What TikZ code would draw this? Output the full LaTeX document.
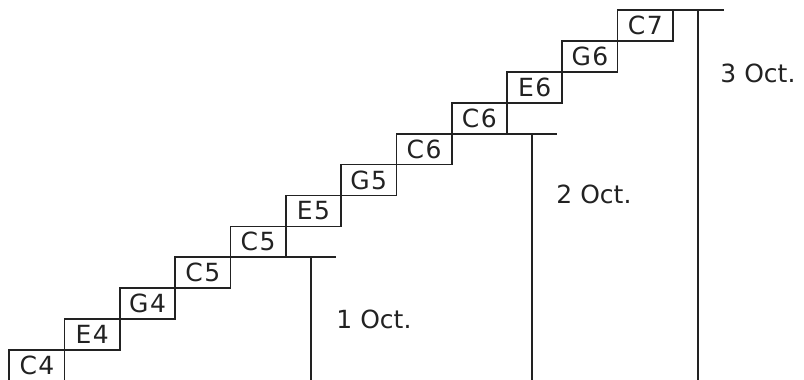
\documentclass[tikz,border=0pt]{standalone}
\usepackage{fontspec}
\setmainfont{DejaVu Sans}
\newfontfamily\notefont[LetterSpace=6]{DejaVu Sans}
\definecolor{inkgray}{RGB}{34,34,34}
\usetikzlibrary{positioning,calc}

\begin{document}
\begin{tikzpicture}[x=1pt,y=1pt,
    every node/.style={font=\fontsize{25}{30}\selectfont,text=inkgray},
    note/.style={draw=inkgray,line width=1.7pt,minimum width=55.3pt,
                 minimum height=30.9pt,inner sep=0pt,outer sep=0pt,
                 anchor=south west,font=\notefont\fontsize{25}{30}\selectfont},
    tick/.style={draw=inkgray,line width=1.7pt}]
  \useasboundingbox (0,0) rectangle (804,380);

  % the staircase
  \node[note] (c4)  at (9.3,-0.9)      {C4};
  \node[note] (e4)  at (c4.north east)  {E4};
  \node[note] (g4)  at (e4.north east)  {G4};
  \node[note] (c5a) at (g4.north east)  {C5};
  \node[note] (c5b) at (c5a.north east) {C5};
  \node[note] (e5)  at (c5b.north east) {E5};
  \node[note] (g5)  at (e5.north east)  {G5};
  \node[note] (c6a) at (g5.north east)  {C6};
  \node[note] (c6b) at (c6a.north east) {C6};
  \node[note] (e6)  at (c6b.north east) {E6};
  \node[note] (g6)  at (e6.north east)  {G6};
  \node[note] (c7)  at (g6.north east)  {C7};

  % octave marks
  \coordinate (h1) at ($(c5b.south east)+(50,0)$);
  \coordinate (v1) at ($(c5b.south east)+(25,0)$);
  \coordinate (h2) at ($(c6b.south east)+(50,0)$);
  \coordinate (v2) at ($(c6b.south east)+(25,0)$);
  \coordinate (h3) at ($(c7.north east)+(51,0)$);
  \coordinate (v3) at ($(c7.north east)+(25,0)$);

  \draw[tick] (c5b.south east) -- (h1);
  \draw[tick] (v1) -- (v1 |- 0,-2);
  \draw[tick] (c6b.south east) -- (h2);
  \draw[tick] (v2) -- (v2 |- 0,-2);
  \draw[tick] (c7.north east) -- (h3);
  \draw[tick] (v3) -- (v3 |- 0,-2);

  \node (oct1) at (374,61)  {1 Oct.};
  \node (oct2) at (594,186) {2 Oct.};
  \node (oct3) at (758,307) {3 Oct.};
\end{tikzpicture}
\end{document}
